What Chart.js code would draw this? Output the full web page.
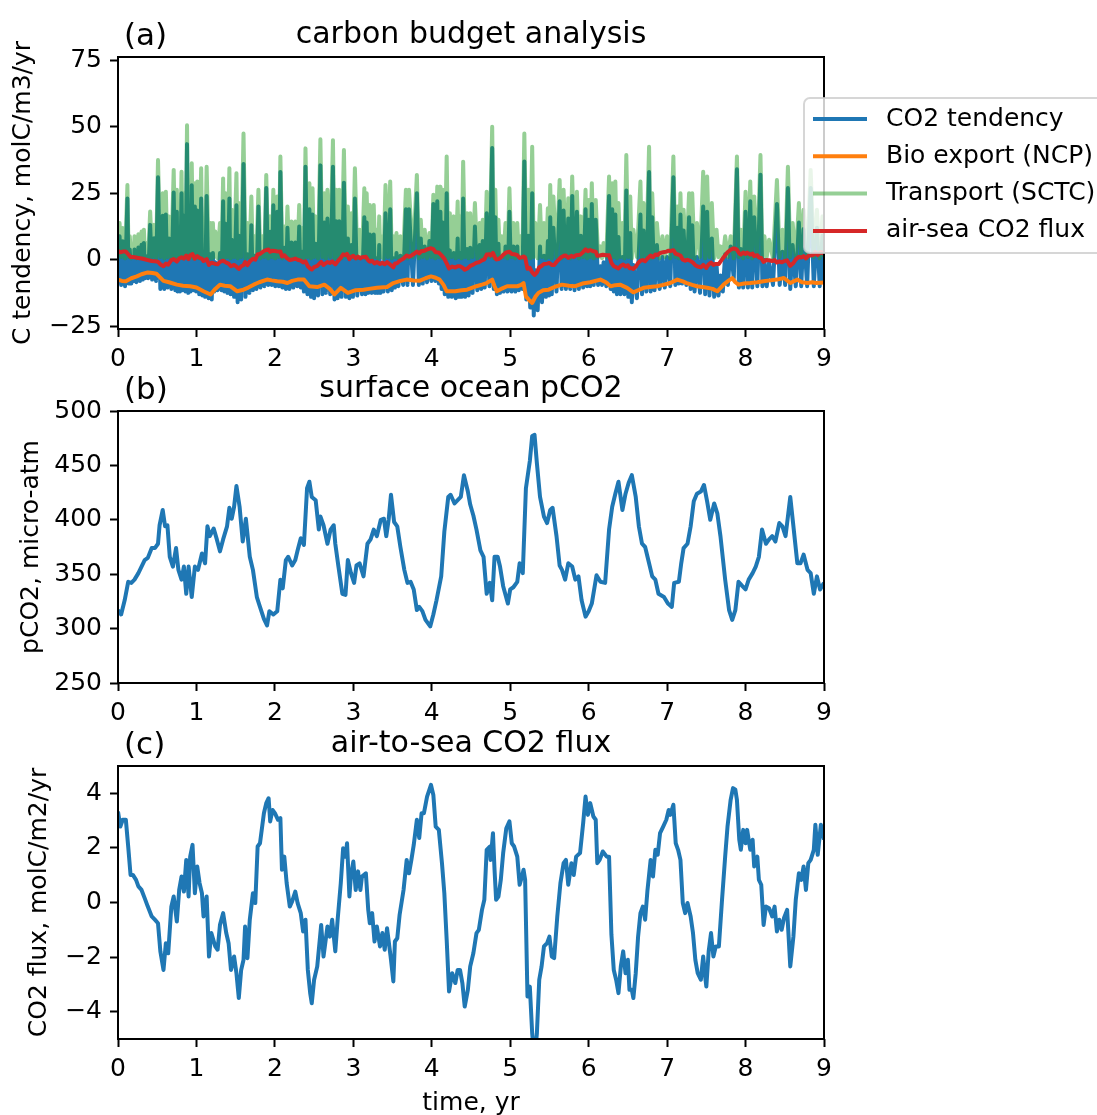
<!DOCTYPE html>
<html>
<head>
<meta charset="utf-8">
<script src="https://cdn.jsdelivr.net/npm/chart.js@4.4.0/dist/chart.umd.min.js"></script>
<style>
  html, body { margin: 0; padding: 0; background: #fff; }
  #wrap { position: relative; width: 1097px; height: 1115px; overflow: hidden; }
  canvas { position: absolute; left: 0; }
</style>
</head>
<body>
<div id="wrap">
  <canvas id="ca" width="1097" height="375" style="top:0"></canvas>
  <canvas id="cb" width="1097" height="355" style="top:375px"></canvas>
  <canvas id="cc" width="1097" height="385" style="top:730px"></canvas>
</div>
<script>
// ---- data ----
const xTicks = [0, 1, 2, 3, 4, 5, 6, 7, 8, 9];
const aTicks = [-25, 0, 25, 50, 75];
const bTicks = [250, 300, 350, 400, 450, 500];
const cTicks = [-4, -2, 0, 2, 4];

// (a) spiky series: transport (SCTC) and CO2 tendency share one time axis
const tSpike = [
  0,0.02,0.04,0.06,0.09,0.12,0.135,0.15,0.17,0.19,0.2,0.21,0.235,0.26,0.28,0.3,0.315,0.33,0.345,0.36,0.385,0.41,0.435,0.46,0.485,
  0.51,0.54,0.57,0.59,0.61,0.63,0.65,0.68,0.71,0.73,0.75,0.76,0.77,0.79,0.81,0.825,0.84,0.86,0.88,0.895,0.91,0.925,0.94,0.96,0.98,0.995,
  1.01,1.035,1.06,1.075,1.09,1.11,1.13,1.155,1.18,1.195,1.21,1.225,1.24,1.27,1.3,1.32,1.34,1.355,1.37,1.395,1.42,1.435,1.45,1.48,
  1.51,1.525,1.54,1.57,1.6,1.625,1.65,1.675,1.7,1.72,1.74,1.765,1.79,1.815,1.84,1.865,1.89,1.915,1.94,1.96,
  1.98,2.005,2.03,2.05,2.07,2.095,2.12,2.14,2.16,2.185,2.21,2.235,2.26,2.285,2.31,2.33,2.35,2.37,2.39,2.415,2.44,2.46,
  2.48,2.5,2.52,2.55,2.58,2.605,2.63,2.65,2.67,2.705,2.74,2.76,2.78,2.8,2.82,2.85,2.88,2.905,2.93,2.95,2.975,2.995,
  3.02,3.05,3.08,3.11,3.14,3.155,3.17,3.19,3.21,3.235,3.26,3.28,3.3,3.315,3.33,3.345,3.36,3.385,3.41,3.44,3.47,3.49,
  3.51,3.53,3.55,3.575,3.6,3.635,3.67,3.69,3.71,3.76,3.81,3.835,3.86,3.885,3.91,3.94,3.97,3.995,
  4.02,4.045,4.07,4.09,4.11,4.125,4.14,4.165,4.19,4.21,4.23,4.255,4.28,4.305,4.33,4.345,4.36,4.38,4.4,4.425,4.45,4.47,
  4.49,4.52,4.55,4.58,4.61,4.63,4.65,4.675,4.7,4.735,4.77,4.79,4.81,4.83,4.85,4.87,4.89,4.915,4.94,4.965,
  4.99,5.015,5.04,5.065,5.09,5.11,5.13,5.155,5.18,5.205,5.23,5.255,5.28,5.3,5.32,5.35,5.38,5.405,5.43,5.455,5.48,5.495,
  5.51,5.53,5.55,5.59,5.63,5.655,5.68,5.71,5.74,5.765,5.79,5.82,5.85,5.875,5.9,5.93,5.96,5.98,
  6,6.02,6.04,6.065,6.09,6.12,6.15,6.17,6.19,6.225,6.26,6.28,6.3,6.32,6.34,6.36,6.38,6.405,6.43,6.455,
  6.48,6.505,6.53,6.55,6.57,6.615,6.66,6.68,6.7,6.735,6.77,6.79,6.81,6.84,6.87,6.905,6.94,6.97,
  7,7.04,7.08,7.105,7.13,7.15,7.17,7.19,7.21,7.245,7.28,7.3,7.32,7.35,7.38,7.42,7.46,7.485,
  7.51,7.54,7.57,7.6,7.63,7.655,7.68,7.71,7.74,7.775,7.81,7.85,7.89,7.915,7.94,7.97,
  8,8.03,8.06,8.085,8.11,8.15,8.19,8.215,8.24,8.27,8.3,8.35,8.4,8.435,8.47,8.505,
  8.54,8.57,8.6,8.64,8.68,8.71,8.74,8.785,8.83,8.87,8.91,8.945,8.98,9
];
const transport = [
  6,13.8,1,11.9,0.5,28.1,1,8.8,0.5,5.6,1,8.8,0.5,9.6,1,10.6,0.5,11.3,1,6.3,0.5,18.1,1,13.1,0.5,
  37.5,1,25,0.5,25.6,1,16.3,0.5,33.8,1,26.3,0.5,14.4,1,33.1,0.5,25,1,50.6,0.5,26.3,1,36.3,0.5,28.8,1,
  29.4,0.5,34.4,1,13.8,0.5,35,1,13.8,0.5,13.8,1,10.6,0.5,13.8,1,30.6,0.5,25,1,34.4,0.5,18.8,1,
  32.5,0.5,21.3,1,47.5,0.5,13.8,1,23.8,0.5,8.8,1,26.3,0.5,8.8,1,31.9,0.5,16.3,1,
  26.3,0.5,23.8,1,38.8,0.5,12.5,1,20,0.5,14.4,1,14.4,0.5,20.6,1,11.9,0.5,41.9,1,28.8,0.5,
  26.9,1,16.3,0.5,45.3,1,25,0.5,26.3,1,45,0.5,26.3,1,26.3,0.5,41.3,1,20,0.5,17.5,1,
  34.4,0.5,11.3,1,26.9,0.5,25,1,20.6,0.5,20.6,1,11.3,0.5,16.3,1,8.8,0.5,28.1,1,29.4,0.5,
  8.8,1,10,0.5,8.8,1,26.3,0.5,26.3,1,31.9,0.5,15,1,11.3,0.5,10,1,
  24.4,0.5,27.5,1,27.5,0.5,26.3,1,38.8,0.5,17.5,1,16.3,0.5,21.9,1,16.3,0.5,36.9,1,17.5,0.5,
  17.5,1,21.3,0.5,13.8,1,15,0.5,25.6,1,50,0.5,26.3,1,15,0.5,8.8,1,13.8,0.5,
  26.9,1,13.8,0.5,13.8,1,8.8,0.5,47.5,1,26.3,0.5,42.5,1,13.8,0.5,20.6,1,13.8,0.5,19.4,1,
  28.1,0.5,23.8,1,30,0.5,26.3,1,23.1,0.5,31.3,1,25.6,0.5,16.3,1,26.3,0.5,
  22.5,1,28.8,0.5,22.5,1,5,0.5,6.3,1,31.3,0.5,28.8,1,29.4,0.5,21.3,1,13.8,0.5,
  39.4,1,23.8,0.5,11.3,1,29.4,0.5,21.3,1,42.5,0.5,25,1,13.8,0.5,8.8,1,
  8.8,0.5,38.8,1,20,0.5,25,1,18.8,0.5,25,1,25,0.5,13.8,1,33.1,0.5,
  31.3,1,21.3,0.5,11.3,1,5,0.5,8.8,1,8.8,0.5,38.8,1,11.3,0.5,
  25.6,1,29.4,0.5,23.8,1,39.4,0.5,8.8,1,7.5,0.5,30,1,11.3,0.5,
  35,1,13.8,0.5,21.3,1,18.8,0.5,33.8,1,18.8,0.5,16.3,1
];
const co2Tend = [
  -3,8.8,-9.5,6.9,-10,23,-9,3.8,-9,0.6,-8,3.8,-8.5,4.6,-8,5.6,-7.5,6.3,-7,1.3,-7,13.1,-7.5,8.1,-8,
  31,-11,16.5,-11,17,-10.5,8,-11,25.3,-11.5,18,-12,6,-12,25,-11.5,16.5,-12,43.5,-12.5,18,-12,28,-11.5,20,-12,
  18.5,-13,23,-13.5,2.5,-14,24,-14.5,2,-15,2.5,-12,-1,-11.5,2.5,-11.5,22,-12,13.5,-12.5,23,-13,7.5,-14,
  20.5,-16,9,-15,36,-14,2,-12.5,13,-11.5,1.5,-11,20,-10.5,2.5,-10,27,-9.5,10.5,-9.5,
  20.5,-10,18,-10,33,-10.5,4.5,-11,12,-11,6.5,-10.5,6.5,-10,12.5,-10.5,3,-12,35,-13,19,-14,
  17,-14.5,6,-13.5,35.5,-13,14,-12.5,15.5,-13,35,-15,14.5,-14.5,14.5,-14,29,-14,8,-14.5,5.5,-14,
  23,-13.5,0,-13,16,-13,14,-12.5,9.5,-12.5,9.5,-12.5,0.5,-12.5,5.5,-12.5,-1.5,-12,17.5,-12,19,-11.5,
  0.5,-10.5,2.5,-10,1.5,-9.5,19,-9.5,19,-9.5,25,-9.5,8,-9,5,-8.5,7,-8,
  21,-8,22,-9,18,-11,14,-13,25,-14,3.5,-14,2.5,-14.5,8,-14,2.5,-14,23,-14,4,-13.5,
  4.5,-12.5,12.5,-11.5,5.5,-11,7,-10.5,17.5,-10,42,-11,16,-13,6,-12.5,0,-12,5,-12,
  18,-12,5,-12,5,-11.5,0,-11,37,-15,9,-18,25,-21,-4,-19,5,-16,1.5,-14,7,-13.5,
  16,-13,12,-12,22,-11,18.5,-11,15.5,-11,24,-11.5,18,-11,9,-10.5,19,-10,
  15,-10,21,-9.5,15,-9.5,-2.5,-9.5,-1,-10,24,-11,19,-12,17,-13,8.5,-13,1,-13,
  26,-14,10,-16,-2,-14.5,17,-13,11,-12,33,-12,16,-11.5,5.5,-11,1,-10.5,
  1,-10,31,-9.5,12,-9,17,-9,11,-9.5,16,-11,13,-12,1,-12.5,20,-13,
  18,-13.5,8,-14,-2,-13.5,-6,-12,2,-9.5,5,-7,34,-10.5,4,-10.5,
  18,-10.5,22,-10.5,16,-10,32,-10,0,-10,-1,-9.5,21,-9.5,3,-9.5,
  27,-11,5.5,-10,14,-10,11.5,-10,27,-10,12,-10,9,-9
];

// (a) bio export (NCP)
const tBio = [0,0.05,0.1,0.17,0.24,0.3,0.38,0.44,0.49,0.53,0.58,0.65,0.75,0.83,0.92,1,1.09,1.18,1.24,1.3,
  1.36,1.43,1.52,1.6,1.66,1.73,1.8,1.9,1.96,2.03,2.1,2.16,2.22,2.29,2.37,2.44,2.54,2.63,2.7,2.76,
  2.84,2.93,3.03,3.13,3.2,3.3,3.43,3.51,3.6,3.68,3.77,3.85,3.92,3.99,4.05,4.1,4.15,4.19,4.3,4.38,
  4.45,4.57,4.65,4.7,4.77,4.8,4.83,4.9,4.96,5.09,5.14,5.17,5.2,5.25,5.28,5.32,5.36,5.42,5.49,5.57,
  5.66,5.75,5.83,5.92,6.02,6.15,6.22,6.28,6.34,6.4,6.49,6.57,6.63,6.7,6.78,6.87,6.95,7.04,7.13,7.2,
  7.25,7.32,7.38,7.45,7.51,7.58,7.64,7.72,7.78,7.83,7.87,7.91,7.98,8.06,8.15,8.23,8.31,8.4,8.49,8.57,
  8.66,8.72,8.79,8.85,8.9,9];
const bioExport = [-7.5,-8,-8.1,-7,-6.3,-5.5,-4.8,-5,-5.3,-6.5,-8,-8.5,-9.4,-9.8,-10,-10.5,-11.9,-13.1,-11,-9.4,
  -9.8,-10,-11.9,-11.3,-10.5,-9.4,-8.5,-7.5,-7.8,-8.1,-8.3,-8.8,-8,-7.5,-7.5,-10,-10.3,-9.4,-11,-13.1,
  -10.6,-12.5,-11.5,-11.3,-11,-10.6,-10.3,-8.8,-8,-7.5,-7.8,-7.9,-7,-6.3,-6.8,-7.5,-9.5,-11.9,-11.9,-11.5,
  -11.3,-10,-9.3,-8.8,-7.5,-10,-11.9,-10.8,-10,-10,-9.5,-8.8,-13.8,-15.5,-16.3,-14,-12.5,-11.5,-11.3,-10.2,
  -9.4,-9.8,-10,-9,-8.5,-7.5,-8.5,-10,-9.6,-9.4,-10.6,-12.3,-11.5,-10.6,-10.3,-10,-9.5,-8.8,-7.5,-8.2,
  -8.8,-9.5,-10,-10.3,-10.6,-11,-11.9,-9.4,-8,-6.9,-8.5,-9.4,-9,-8.8,-8.5,-8.1,-7.8,-7.5,-6.9,-8.8,
  -7.5,-8.5,-8.8,-8.5,-8.8,-8.6];

// (b) surface ocean pCO2
const tPco2 = [0.00,0.04,0.085,0.13,0.17,0.21,0.26,0.30,0.34,0.38,
  0.43,0.47,0.51,0.53,0.57,0.60,0.63,0.66,0.70,0.74,
  0.77,0.81,0.84,0.87,0.90,0.94,0.98,1.02,1.07,1.11,
  1.14,1.17,1.22,1.26,1.30,1.34,1.39,1.42,1.45,1.48,
  1.51,1.55,1.59,1.63,1.68,1.72,1.77,1.81,1.86,1.90,
  1.93,1.98,2.03,2.07,2.10,2.14,2.17,2.22,2.26,2.29,
  2.33,2.37,2.41,2.44,2.47,2.52,2.56,2.58,2.62,2.67,
  2.71,2.75,2.77,2.81,2.86,2.90,2.93,2.97,3.01,3.04,
  3.08,3.13,3.18,3.22,3.26,3.30,3.35,3.39,3.42,3.45,
  3.48,3.52,3.56,3.60,3.65,3.69,3.73,3.77,3.81,3.84,
  3.88,3.92,3.98,4.02,4.06,4.12,4.16,4.21,4.24,4.29,
  4.33,4.37,4.41,4.46,4.49,4.53,4.57,4.62,4.66,4.70,
  4.74,4.77,4.80,4.84,4.87,4.91,4.97,5.00,5.04,5.09,
  5.12,5.16,5.20,5.25,5.28,5.31,5.34,5.38,5.43,5.47,
  5.51,5.54,5.59,5.63,5.66,5.70,5.74,5.79,5.83,5.87,
  5.91,5.96,6.00,6.04,6.10,6.15,6.21,6.26,6.30,6.34,
  6.38,6.43,6.47,6.51,6.55,6.60,6.64,6.68,6.72,6.77,
  6.81,6.85,6.89,6.96,7.01,7.06,7.09,7.15,7.18,7.21,
  7.26,7.30,7.34,7.38,7.43,7.47,7.51,7.55,7.60,7.64,
  7.68,7.74,7.79,7.83,7.87,7.91,7.96,8.00,8.04,8.09,
  8.13,8.17,8.21,8.26,8.30,8.34,8.38,8.43,8.47,8.51,
  8.57,8.61,8.66,8.70,8.74,8.79,8.83,8.87,8.91,8.95,
  9.00];
const pco2 = [317,313,326,343,342,345,351,357,363,365,
  374,374,378,395,409,394,395,366,357,374,
  354,345,357,332,357,329,357,354,369,360,
  394,385,392,382,371,382,394,411,401,412,
  431,412,380,401,366,354,329,320,309,303,
  316,313,316,345,337,363,366,358,363,372,
  383,377,429,435,421,418,391,403,395,378,
  391,395,378,357,332,331,363,351,342,358,
  360,348,378,382,391,385,400,401,385,400,
  423,398,394,375,354,342,343,336,317,320,
  316,308,302,313,326,348,389,421,423,415,
  418,421,441,426,414,404,391,372,366,332,
  342,326,366,366,357,339,323,336,338,343,
  360,351,429,454,477,478,452,421,403,397,
  409,411,385,358,354,345,360,357,345,348,
  326,311,316,323,349,343,342,391,412,424,
  435,409,424,434,441,421,394,378,375,360,
  348,345,332,329,323,320,342,343,360,374,
  378,394,417,424,426,432,417,400,415,406,
  385,345,317,308,317,343,339,336,345,351,
  357,366,391,378,382,385,380,397,394,385,
  421,394,360,360,368,354,351,332,348,336,
  342];

// (c) air-to-sea CO2 flux (also the red line of panel a)
const tFlux = [0.00,0.03,0.06,0.10,0.13,0.16,0.19,0.23,0.26,0.30,
  0.34,0.38,0.43,0.47,0.51,0.54,0.58,0.61,0.64,0.68,
  0.71,0.75,0.78,0.81,0.84,0.87,0.90,0.92,0.95,0.98,
  1.01,1.04,1.07,1.09,1.13,1.16,1.19,1.24,1.27,1.30,
  1.34,1.38,1.41,1.44,1.48,1.51,1.54,1.57,1.60,1.62,
  1.65,1.68,1.72,1.75,1.78,1.81,1.86,1.89,1.92,1.94,
  1.97,2.00,2.04,2.07,2.09,2.12,2.15,2.19,2.22,2.26,
  2.29,2.33,2.36,2.39,2.42,2.45,2.47,2.50,2.54,2.59,
  2.62,2.67,2.70,2.73,2.77,2.80,2.84,2.87,2.90,2.92,
  2.95,2.97,3.00,3.03,3.06,3.09,3.11,3.16,3.19,3.21,
  3.24,3.27,3.30,3.34,3.37,3.40,3.43,3.48,3.51,3.53,
  3.56,3.59,3.64,3.68,3.71,3.74,3.77,3.81,3.84,3.87,
  3.90,3.94,3.99,4.02,4.05,4.09,4.13,4.16,4.19,4.22,
  4.26,4.30,4.33,4.36,4.39,4.42,4.46,4.49,4.53,4.57,
  4.60,4.64,4.67,4.70,4.74,4.75,4.78,4.80,4.82,4.85,
  4.88,4.91,4.95,4.99,5.02,5.05,5.09,5.12,5.15,5.17,
  5.19,5.22,5.25,5.28,5.31,5.34,5.37,5.40,5.43,5.47,
  5.50,5.53,5.56,5.60,5.64,5.68,5.71,5.74,5.78,5.81,
  5.84,5.89,5.93,5.96,5.99,6.02,6.06,6.09,6.11,6.14,
  6.18,6.23,6.26,6.29,6.32,6.35,6.38,6.41,6.44,6.47,
  6.50,6.52,6.55,6.57,6.60,6.63,6.66,6.69,6.72,6.75,
  6.79,6.82,6.85,6.88,6.91,6.95,6.99,7.02,7.04,7.08,
  7.11,7.14,7.17,7.20,7.23,7.26,7.30,7.33,7.36,7.39,
  7.43,7.46,7.48,7.50,7.53,7.56,7.59,7.62,7.66,7.70,
  7.74,7.77,7.81,7.84,7.87,7.89,7.92,7.94,7.97,8.00,
  8.02,8.06,8.09,8.11,8.15,8.17,8.20,8.23,8.26,8.30,
  8.34,8.37,8.40,8.43,8.46,8.49,8.53,8.57,8.61,8.64,
  8.68,8.71,8.74,8.77,8.80,8.83,8.87,8.89,8.92,8.96,
  9.00];
const flux = [3.33,2.78,3.03,3.03,2.05,1.01,1.01,0.83,0.59,0.46,
  0.16,-0.15,-0.51,-0.63,-0.76,-1.79,-2.47,-1.49,-1.86,-0.15,
  0.22,-0.70,0.46,0.95,0.40,1.56,0.22,1.68,2.11,0.34,
  1.32,0.71,0.34,-0.51,0.22,-1.98,-1.12,-1.61,-1.73,-0.82,
  -0.39,-1.12,-1.49,-2.47,-1.98,-2.59,-3.50,-2.47,-2.10,-0.88,
  -2.04,-0.63,0.34,-0.02,2.05,2.17,3.27,3.64,3.82,2.97,
  3.39,3.27,3.03,3.09,1.20,1.68,0.71,-0.15,0.04,0.40,
  -0.02,-0.39,-1.06,-0.63,-2.47,-3.32,-3.69,-2.83,-2.34,-0.82,
  -1.98,-0.88,-1.25,-0.63,-1.79,-0.63,0.71,1.99,1.68,2.17,
  0.22,1.01,1.50,0.46,1.14,0.46,0.95,1.07,-0.27,-0.76,
  -0.39,-1.43,-0.88,-1.61,-1.12,-1.73,-0.94,-2.10,-2.89,-1.43,
  -1.31,-0.45,0.46,1.56,1.07,1.56,2.11,3.03,2.36,3.27,
  3.27,3.88,4.31,3.94,2.78,2.66,1.44,0.34,-1.37,-3.26,
  -2.59,-2.95,-2.47,-2.47,-2.95,-3.81,-3.20,-2.34,-1.86,-1.12,
  -1.00,-0.27,0.10,1.93,2.05,1.56,2.54,1.20,0.10,0.22,
  0.83,1.81,2.72,2.97,2.17,2.05,1.68,0.65,0.95,1.20,
  0.83,-3.44,-3.08,-4.79,-5.76,-4.79,-2.83,-2.34,-1.61,-1.49,
  -1.25,-1.98,-2.04,-0.51,0.71,1.44,1.56,0.65,1.44,1.01,
  1.68,1.81,2.91,3.88,3.21,3.64,3.15,3.03,1.44,1.56,
  1.87,1.68,1.68,-1.18,-2.47,-2.83,-3.32,-2.34,-1.79,-2.59,
  -2.10,-3.20,-3.20,-3.50,-2.59,-1.25,-0.39,-0.15,-0.63,0.46,
  1.56,0.95,1.93,1.75,2.54,2.78,3.03,3.39,3.21,3.58,
  2.17,1.93,1.56,-0.02,-0.39,-0.02,-0.51,-1.12,-2.10,-2.59,
  -2.83,-1.98,-2.59,-3.08,-1.79,-1.12,-1.98,-1.61,-1.61,0.10,
  1.68,2.78,3.76,4.19,4.13,3.76,2.30,1.93,2.66,2.17,
  2.66,1.93,2.30,1.32,1.68,0.83,0.65,-0.82,-0.15,-0.21,
  -0.51,-0.15,-1.06,-0.63,-1.00,-0.57,-0.27,-2.34,-1.25,0.10,
  1.07,0.83,1.32,0.46,1.44,1.56,1.93,2.85,1.75,2.85,
  2.30];

// ---- drawing ----
const FONT = 'DejaVu Sans';
const BLUE = '#1f77b4', ORANGE = '#ff7f0e', GREEN = 'rgba(44,160,44,0.5)', RED = '#d62728';
const LW = 4;

function pts(ts, vs) {
  return ts.map((t, i) => ({ x: t, y: vs[i] }));
}

function series(label, ts, vs, color, order) {
  return {
    label: label,
    data: pts(ts, vs),
    borderColor: color,
    backgroundColor: color,
    borderWidth: LW,
    borderJoinStyle: 'round',
    pointRadius: 0,
    tension: 0,
    fill: false,
    clip: 0,
    order: order
  };
}

function fmt(v) {
  return v < 0 ? '\u2212' + Math.abs(v) : String(v);
}

function scales(ymin, ymax, yTicks, xHeight) {
  const tickFont = { family: FONT, size: 25 };
  const grid = { drawOnChartArea: false, drawTicks: true, tickLength: 8, tickWidth: 2, tickColor: '#000', color: '#000' };
  return {
    x: {
      type: 'linear', min: 0, max: 9, grid: grid, border: { display: false },
      ticks: { font: tickFont, color: '#000', padding: 7, maxRotation: 0, autoSkip: false, callback: v => fmt(v) },
      afterBuildTicks: s => { s.ticks = xTicks.map(v => ({ value: v })); },
      afterFit: s => { s.height = xHeight; }
    },
    y: {
      type: 'linear', min: ymin, max: ymax, grid: grid, border: { display: false },
      ticks: { font: tickFont, color: '#000', padding: 8, autoSkip: false, callback: v => fmt(v) },
      afterBuildTicks: s => { s.ticks = yTicks.map(v => ({ value: v })); },
      afterFit: s => { s.width = 118; }
    }
  };
}

function drawLegend(ctx, datasets) {
  ctx.save();
  ctx.beginPath();
  ctx.roundRect(804, 98, 330, 155, 6);
  ctx.fillStyle = 'rgba(255,255,255,0.8)';
  ctx.fill();
  ctx.strokeStyle = 'rgba(204,204,204,0.8)';
  ctx.lineWidth = 2;
  ctx.stroke();
  ctx.font = '25px "' + FONT + '"';
  ctx.textAlign = 'left';
  ctx.textBaseline = 'middle';
  datasets.forEach((d, i) => {
    const y = 119 + i * 37.3;
    ctx.strokeStyle = d.borderColor;
    ctx.lineWidth = LW;
    ctx.beginPath();
    ctx.moveTo(813, y);
    ctx.lineTo(867, y);
    ctx.stroke();
    ctx.fillStyle = '#000';
    ctx.fillText(d.label, 886, y);
  });
  ctx.restore();
}

// axes frame, titles, axis labels (matplotlib style)
const frame = {
  id: 'frame',
  afterDatasetsDraw(chart, args, o) {
    const ctx = chart.ctx, a = chart.chartArea;
    ctx.save();
    ctx.strokeStyle = '#000';
    ctx.lineWidth = 2;
    ctx.strokeRect(a.left, a.top, a.right - a.left, a.bottom - a.top);
    ctx.fillStyle = '#000';
    ctx.textBaseline = 'alphabetic';
    ctx.textAlign = 'center';
    ctx.font = '30px "' + FONT + '"';
    ctx.fillText(o.title, (a.left + a.right) / 2, a.top - 14);
    ctx.textAlign = 'left';
    ctx.font = '31px "' + FONT + '"';
    ctx.fillText(o.tag, a.left + 6, a.top - 12);
    ctx.font = '25px "' + FONT + '"';
    ctx.textAlign = 'center';
    ctx.textBaseline = 'middle';
    if (o.xlabel) ctx.fillText(o.xlabel, (a.left + a.right) / 2, o.xlabelY);
    ctx.translate(o.ylabelX, (a.top + a.bottom) / 2);
    ctx.rotate(-Math.PI / 2);
    ctx.fillText(o.ylabel, 0, 0);
    ctx.restore();
    if (o.legend) drawLegend(ctx, chart.data.datasets);
  }
};

function makeChart(id, datasets, sc, padTop, frameOpts) {
  return new Chart(document.getElementById(id), {
    type: 'line',
    data: { datasets: datasets },
    options: {
      responsive: false,
      animation: false,
      events: [],
      layout: { padding: { top: padTop, right: 273, left: 0, bottom: 0 } },
      scales: sc,
      plugins: { legend: { display: false }, tooltip: { enabled: false }, frame: frameOpts }
    },
    plugins: [frame]
  });
}

makeChart('ca', [
  series('CO2 tendency', tSpike, co2Tend, BLUE, 3),
  series('Bio export (NCP)', tBio, bioExport, ORANGE, 2),
  series('Transport (SCTC)', tSpike, transport, GREEN, 1),
  series('air-sea CO2 flux', tFlux, flux, RED, 0)
], scales(-26.1, 76.3, aTicks, 46), 57,
  { title: 'carbon budget analysis', tag: '(a)', ylabel: 'C tendency, molC/m3/yr', ylabelX: 23, legend: true });

makeChart('cb', [
  series('pCO2', tPco2, pco2, BLUE, 0)
], scales(250, 500, bTicks, 47), 36,
  { title: 'surface ocean pCO2', tag: '(b)', ylabel: 'pCO2, micro-atm', ylabelX: 31 });

makeChart('cc', [
  series('air-to-sea CO2 flux', tFlux, flux, BLUE, 0)
], scales(-5, 5, cTicks, 76), 36,
  { title: 'air-to-sea CO2 flux', tag: '(c)', ylabel: 'CO2 flux, molC/m2/yr', ylabelX: 39, xlabel: 'time, yr', xlabelY: 373 });
</script>
</body>
</html>
